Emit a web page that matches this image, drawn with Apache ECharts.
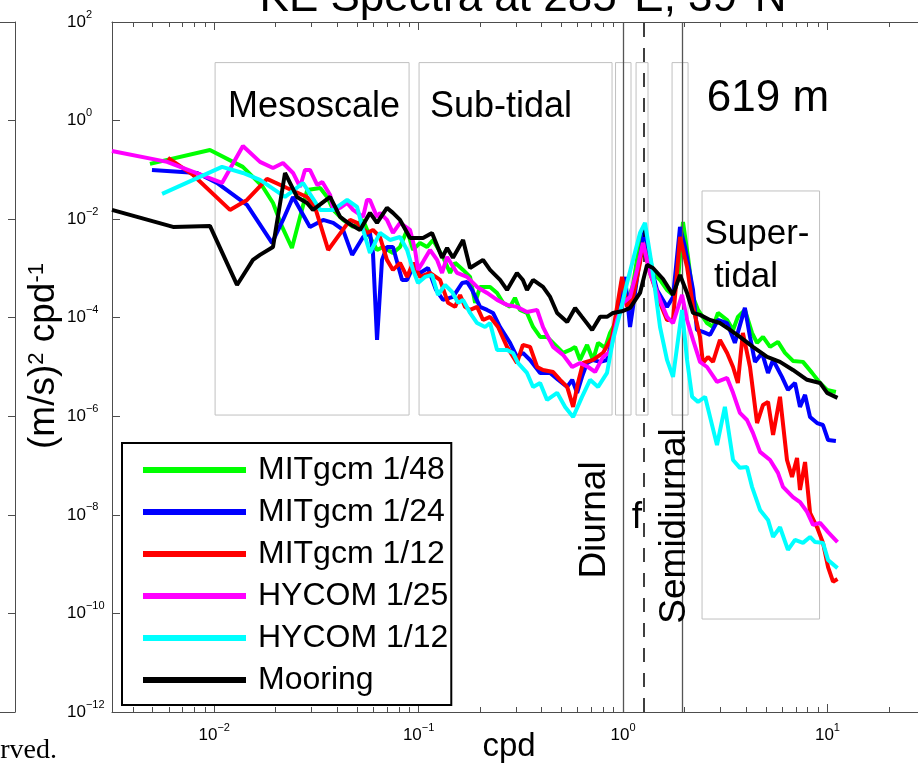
<!DOCTYPE html>
<html><head><meta charset="utf-8">
<script src="https://cdn.jsdelivr.net/npm/echarts@6/dist/echarts.min.js"></script>
<style>html,body{margin:0;padding:0;background:#fff}#c{width:918px;height:768px}</style>
</head><body><div id="c"></div>
<script>
// ---- data: [frequency (cpd), KE spectral density ((m/s)^2 cpd^-1)] ----
const seriesNames = ['MITgcm 1/48','MITgcm 1/24','MITgcm 1/12','HYCOM 1/25','HYCOM 1/12','Mooring'];
const seriesColors = ['#00ff00','#0000ff','#ff0000','#ff00ff','#00ffff','#000000'];

const mitgcm48 = [[0.00485,0.132],[0.00953,0.253],[0.0138,0.115],[0.0173,0.045],[0.0194,0.0213],[0.0215,0.00695],[0.0240,0.0026],[0.0263,0.0111],[0.0285,0.0391],[0.033,0.0429],[0.0357,0.0282],[0.0382,0.0154],[0.0427,0.00964],[0.0478,0.00695],[0.0535,0.00964],[0.0578,0.00435],[0.0626,0.00237],[0.0669,0.00273],[0.0749,0.00206],[0.0811,0.00273],[0.0878,0.00604],[0.0939,0.00237],[0.1016,0.00329],[0.110,0.00273],[0.1176,0.00378],[0.1316,0.00171],[0.1425,0.00081],[0.1508,0.0013],[0.165,0.000933],[0.1785,0.000672],[0.189,0.0002],[0.1998,0.000421],[0.2236,0.000421],[0.242,0.000318],[0.259,0.0002],[0.28,0.000166],[0.296,0.000253],[0.313,0.000144],[0.339,0.000125],[0.363,6.5e-5],[0.393,4.08e-5],[0.425,4.08e-5],[0.476,2.56e-5],[0.509,1.93e-5],[0.551,2.22e-5],[0.583,2.56e-5],[0.616,1.39e-5],[0.667,2.81e-5],[0.713,1.39e-5],[0.755,3.09e-5],[0.817,2.44e-5],[0.864,4.92e-5],[0.935,9.0e-5],[0.989,0.000584],[1.058,0.00023],[1.119,0.000462],[1.211,0.00378],[1.281,0.0055],[1.401,0.00081],[1.517,0.000584],[1.641,0.000366],[1.756,0.00029],[1.857,0.000584],[1.965,0.00878],[2.079,0.00171],[2.2,0.000264],[2.327,0.000144],[2.575,7.8e-5],[2.755,6.47e-5],[2.913,0.000125],[3.23,9.0e-5],[3.453,5.65e-5],[3.646,0.000104],[3.946,0.000144],[4.276,4.92e-5],[4.526,3.09e-5],[4.839,4.08e-5],[5.24,2.56e-5],[5.728,3.23e-5],[6.2,1.93e-5],[6.783,1.33e-5],[7.59,1.27e-5],[8.41,7.6e-6],[9.2,4.75e-6],[9.96,3.43e-6],[11.0,3.12e-6]];

const mitgcm24 = [[0.00496,0.0995],[0.00825,0.0865],[0.01032,0.0542],[0.01447,0.0194],[0.01918,0.00329],[0.0217,0.00964],[0.0243,0.0282],[0.0294,0.00695],[0.0341,0.00964],[0.0382,0.00838],[0.0427,0.00604],[0.0473,0.00188],[0.0535,0.00435],[0.0578,0.00525],[0.0598,0.00206],[0.0626,3.54e-5],[0.0662,0.00149],[0.070,0.00273],[0.0749,0.00273],[0.083,0.000584],[0.0878,0.000584],[0.0939,0.00107],[0.1016,0.00081],[0.1111,0.00102],[0.1217,0.000366],[0.1316,0.00023],[0.1473,0.000264],[0.1632,0.000507],[0.1726,0.000532],[0.1826,0.000366],[0.1998,0.000166],[0.2162,0.000144],[0.2312,0.000125],[0.2503,6.47e-5],[0.28,3.09e-5],[0.3027,1.6e-5],[0.3237,1.93e-5],[0.351,1.39e-5],[0.393,7.58e-6],[0.44,7.58e-6],[0.481,5.5e-6],[0.533,3.94e-6],[0.564,5.5e-6],[0.596,2.99e-6],[0.63,6.29e-6],[0.667,1.21e-5],[0.713,1.39e-5],[0.772,1.27e-5],[0.835,1.39e-5],[0.893,4.08e-5],[0.967,0.00023],[1.023,0.000672],[1.082,6.47e-5],[1.119,0.000166],[1.211,0.00171],[1.281,0.00663],[1.355,0.0013],[1.467,0.000366],[1.641,0.000166],[1.756,0.000264],[1.9,0.00695],[2.01,0.00273],[2.2,0.000366],[2.30,5.65e-5],[2.46,5.15e-5],[2.664,4.48e-5],[2.913,9.0e-5],[3.23,7.8e-5],[3.525,3.09e-5],[3.946,0.000158],[4.18,4.08e-5],[4.42,1.27e-5],[4.79,1.93e-5],[5.12,7.58e-6],[5.42,1.39e-5],[5.99,6.29e-6],[6.41,3.43e-6],[6.94,4.75e-6],[7.34,1.55e-6],[7.77,2.72e-6],[8.22,9.7e-7],[8.9,7.3e-7],[9.51,6.65e-7],[10.07,3.3e-7],[11.0,3.15e-7]];

const mitgcm12 = [[0.00594,0.175],[0.00788,0.0788],[0.01194,0.0154],[0.01447,0.0245],[0.01813,0.0654],[0.0227,0.0429],[0.02846,0.0282],[0.0311,0.0177],[0.0361,0.00237],[0.0462,0.00964],[0.05,0.00838],[0.0559,0.00525],[0.0598,0.00604],[0.0647,0.00435],[0.070,0.00149],[0.0749,0.000933],[0.0811,0.0013],[0.0878,0.000672],[0.0939,0.0013],[0.1016,0.000672],[0.1137,0.00081],[0.1273,0.000584],[0.1393,0.0002],[0.1508,0.000166],[0.1595,0.00029],[0.1688,0.000166],[0.1785,0.000144],[0.1932,0.000166],[0.2066,9.0e-5],[0.2236,0.000104],[0.2447,6.47e-5],[0.2708,2.56e-5],[0.3027,1.21e-5],[0.3237,2.81e-5],[0.351,2.56e-5],[0.380,1.0e-5],[0.406,8.7e-6],[0.455,7.93e-6],[0.492,5.5e-6],[0.533,3.94e-6],[0.570,1.55e-6],[0.602,4.75e-6],[0.637,1.21e-5],[0.713,1.39e-5],[0.798,1.93e-5],[0.884,4.08e-5],[0.935,0.000166],[0.989,0.000672],[1.046,0.000166],[1.119,0.000264],[1.211,0.0013],[1.252,0.00329],[1.355,0.00081],[1.517,0.0002],[1.641,9.0e-5],[1.756,9.0e-5],[1.9,0.00435],[2.057,0.00107],[2.2,0.000166],[2.38,4.08e-5],[2.46,1.21e-5],[2.604,1.6e-5],[2.755,1.27e-5],[2.98,3.54e-5],[3.23,1.93e-5],[3.453,1.0e-5],[3.646,4.75e-6],[3.857,4.92e-5],[4.18,1.0e-5],[4.526,7.3e-7],[4.84,1.7e-6],[5.12,1.96e-6],[5.42,4.2e-7],[5.86,2.48e-6],[6.34,1.3e-7],[6.71,5.9e-8],[7.1,1.43e-7],[7.34,3.2e-8],[7.77,1.18e-7],[8.22,1.1e-8],[8.9,5.6e-9],[9.51,2.7e-9],[10.07,8.7e-10],[10.65,4.4e-10],[11.2,5.0e-10]];

const hycom25 = [[0.00316,0.241],[0.00588,0.145],[0.01092,0.0542],[0.01382,0.305],[0.01675,0.145],[0.01939,0.109],[0.0217,0.138],[0.0243,0.0865],[0.0263,0.045],[0.0278,0.0995],[0.0294,0.0995],[0.0319,0.0494],[0.0338,0.0568],[0.0369,0.031],[0.0382,0.0154],[0.0413,0.0169],[0.0447,0.0213],[0.0478,0.0154],[0.0535,0.0111],[0.0559,0.0245],[0.0578,0.0245],[0.0626,0.0111],[0.0647,0.0134],[0.070,0.00964],[0.0749,0.00525],[0.0811,0.00838],[0.0908,0.00604],[0.0961,0.00237],[0.0993,0.000933],[0.1051,0.00136],[0.1137,0.00237],[0.1231,0.00149],[0.1302,0.00081],[0.1378,0.00171],[0.1542,0.00081],[0.1726,0.000672],[0.1932,0.000421],[0.2162,0.000318],[0.242,0.00023],[0.2708,0.000182],[0.3027,0.000166],[0.339,0.000131],[0.380,0.000144],[0.406,6.47e-5],[0.455,2.56e-5],[0.509,1.76e-5],[0.564,1.0e-5],[0.616,1.21e-5],[0.675,1.0e-5],[0.73,7.93e-6],[0.798,1.6e-5],[0.864,2.02e-5],[0.935,9.0e-5],[1.0,0.0002],[1.082,0.000264],[1.171,0.000933],[1.252,0.00329],[1.355,0.00081],[1.517,0.00023],[1.641,0.000104],[1.756,7.8e-5],[1.944,0.00029],[2.057,9.0e-5],[2.2,3.54e-5],[2.38,1.27e-5],[2.575,1.0e-5],[2.882,5.0e-6],[3.23,6.0e-6],[3.453,2.99e-6],[3.73,1.17e-6],[4.04,8.4e-7],[4.32,4.6e-7],[4.68,1.9e-7],[5.24,1.3e-7],[5.728,7.1e-8],[6.06,3.7e-8],[6.783,2.3e-8],[7.34,1.82e-8],[7.95,1.15e-8],[8.5,6.25e-9],[9.2,6.9e-9],[10.07,4.46e-9],[11.2,2.8e-9]];

const hycom12 = [[0.00556,0.0325],[0.01092,0.115],[0.01382,0.0865],[0.01675,0.0624],[0.0222,0.0282],[0.0272,0.0542],[0.033,0.0154],[0.0382,0.0154],[0.0447,0.0245],[0.05,0.0177],[0.0535,0.00604],[0.0578,0.00206],[0.0647,0.00525],[0.0724,0.00378],[0.0811,0.00435],[0.0878,0.00237],[0.0939,0.000933],[0.0993,0.000507],[0.1075,0.000672],[0.1163,0.000738],[0.1244,0.00029],[0.1347,0.000462],[0.1458,0.000333],[0.1559,0.0002],[0.165,0.00023],[0.1785,0.000125],[0.1932,7.8e-5],[0.2114,6.47e-5],[0.2236,7.8e-5],[0.242,2.22e-5],[0.2708,2.22e-5],[0.2895,1.93e-5],[0.306,1.21e-5],[0.339,7.58e-6],[0.363,3.94e-6],[0.393,4.75e-6],[0.425,2.15e-6],[0.476,2.99e-6],[0.521,1.55e-6],[0.570,9.7e-7],[0.63,2.48e-6],[0.69,5.5e-6],[0.755,3.94e-6],[0.835,7.58e-6],[0.893,3.54e-5],[0.967,0.000125],[1.046,0.000507],[1.119,0.00149],[1.211,0.00525],[1.281,0.00838],[1.387,0.00107],[1.517,6.47e-5],[1.641,1.39e-5],[1.756,6.29e-6],[1.944,0.000144],[2.057,1.39e-5],[2.177,2.48e-6],[2.327,1.96e-6],[2.52,2.48e-6],[2.882,2.6e-7],[3.15,1.55e-6],[3.453,1.3e-7],[3.73,9.0e-8],[4.04,9.4e-8],[4.276,3.7e-8],[4.68,1.26e-8],[5.12,7.9e-9],[5.42,3.57e-9],[5.86,5.6e-9],[6.41,1.94e-9],[6.94,3.1e-9],[7.59,2.7e-9],[8.22,3.57e-9],[8.7,2.8e-9],[9.51,2.7e-9],[10.07,1.22e-9],[11.2,8.3e-10]];

const mooring = [[0.00316,0.0154],[0.00629,0.00695],[0.00953,0.00728],[0.01293,0.000462],[0.01547,0.00149],[0.01675,0.00188],[0.01939,0.00273],[0.0222,0.0865],[0.0254,0.0282],[0.02846,0.0213],[0.0304,0.0154],[0.0369,0.0282],[0.0413,0.0111],[0.0452,0.00838],[0.0517,0.00604],[0.0578,0.0134],[0.0626,0.00838],[0.070,0.0169],[0.0749,0.0134],[0.0811,0.00964],[0.0908,0.00415],[0.0993,0.00415],[0.1051,0.00415],[0.1163,0.00525],[0.1302,0.00164],[0.1378,0.0026],[0.1473,0.00164],[0.165,0.00378],[0.1785,0.00102],[0.2066,0.00149],[0.2236,0.000933],[0.2503,0.000584],[0.2708,0.000366],[0.3027,0.00081],[0.3237,0.000584],[0.339,0.000366],[0.363,0.000584],[0.406,0.000421],[0.44,0.000264],[0.476,0.000125],[0.533,8.2e-5],[0.583,0.000158],[0.63,0.000104],[0.706,5.65e-5],[0.772,0.000104],[0.835,0.000104],[0.893,0.000125],[1.0,0.000137],[1.082,0.000158],[1.211,0.000318],[1.31,0.00118],[1.401,0.00102],[1.569,0.00061],[1.756,0.00029],[1.9,0.000738],[2.057,0.000318],[2.2,0.000125],[2.38,0.000114],[2.664,9.0e-5],[2.98,7.8e-5],[3.34,5.65e-5],[3.73,4.08e-5],[4.32,2.56e-5],[5.07,1.6e-5],[5.86,1.27e-5],[6.78,8.7e-6],[7.95,5.5e-6],[9.2,4.75e-6],[9.96,2.99e-6],[11.2,2.36e-6]];

// axis ranges and tick labels (powers of ten)
const xRangeCpd = [Math.pow(10, -2.5), Math.pow(10, 1.443)];
const yRangePsd = [1e-12, 1e2];
const xTickExponents = [-2, -1, 0, 1];
const yTickExponents = [2, 0, -2, -4, -6, -8, -10, -12];
const minorMultipliers = [2, 3, 4, 5, 6, 7, 8, 9];

// tidal / inertial frequencies (cpd) at 39N
const tidalFreqs = { diurnal: 1.0, inertial: 1.2587, semidiurnal: 1.9323 };
// frequency bands [f0, f1, psdLow, psdHigh]
const bandNames = ['Mesoscale', 'Sub-tidal', 'Diurnal', 'f', 'Semidiurnal', 'Super-tidal'];
const bandLimits = [[0.0101,0.0898,1.06e-6,15],[0.1005,0.8835,1.06e-6,15],[0.919,1.094,1.06e-6,15],[1.158,1.325,1.06e-6,15],[1.737,2.08,1.06e-6,15],[2.435,9.15,7.7e-11,0.0373]];

// ---- chart ----
const L = Math.log10;
const allData = [mitgcm48, mitgcm24, mitgcm12, hycom25, hycom12, mooring];
const xMin = L(xRangeCpd[0]), xMax = L(xRangeCpd[1]);
const yMin = L(yRangePsd[0]), yMax = L(yRangePsd[1]);
const minorX = [];
for (let n = -3; n <= 1; n++) for (const k of minorMultipliers) { const v = n + L(k); if (v > xMin && v < xMax) minorX.push(v); }

const axisColor = '#4d4d4d';
const SANS = '"Liberation Sans", Arial, sans-serif';
const supLabel = (v) => '{b|10}{s|' + String(Math.round(v)).replace('-', '\u2212') + '}';
const tickRich = { b: { fontSize: 17, lineHeight: 26, fontFamily: SANS, color: '#000' },
                   s: { fontSize: 11, lineHeight: 11, verticalAlign: 'top', fontFamily: SANS, color: '#000' } };

function xAx(pos, ticks, len, showLine, labels) {
  return { type: 'value', gridIndex: 0, position: pos, min: xMin, max: xMax,
    axisLine: { show: showLine, onZero: false, lineStyle: { color: axisColor, width: 1 } },
    axisTick: { show: true, inside: true, length: len, customValues: ticks, lineStyle: { color: axisColor } },
    axisLabel: labels ? { show: true, customValues: xTickExponents, formatter: supLabel, rich: tickRich, margin: 10 } : { show: false },
    splitLine: { show: false } };
}

const series = allData.map((d, i) => ({
  name: seriesNames[i], type: 'line', xAxisIndex: 0, yAxisIndex: 0,
  data: d.map(p => [L(p[0]), L(p[1])]),
  showSymbol: false, symbol: 'none', color: seriesColors[i],
  lineStyle: { color: seriesColors[i], width: 4 }, z: 3 + i, animation: false
}));
series[0].markLine = { silent: true, symbol: 'none', label: { show: false }, animation: false,
  data: [
    { xAxis: L(tidalFreqs.diurnal), lineStyle: { color: '#555', width: 1.3, type: 'solid' } },
    { xAxis: L(tidalFreqs.inertial), lineStyle: { color: '#000', width: 1.5, type: [14, 11] } },
    { xAxis: L(tidalFreqs.semidiurnal), lineStyle: { color: '#555', width: 1.3, type: 'solid' } }
  ] };
series[0].markArea = { silent: true, animation: false, label: { show: false },
  itemStyle: { color: 'rgba(0,0,0,0)', borderColor: '#c0c0c0', borderWidth: 1 },
  data: bandLimits.map((b, i) => [{ name: bandNames[i], xAxis: L(b[0]), yAxis: L(b[3]) }, { xAxis: L(b[1]), yAxis: L(b[2]) }]) };

function txt(x, y, text, size, extra) {
  return Object.assign({ type: 'text', x: x, y: y, z: 50,
    style: Object.assign({ text: text, fontSize: size, fontFamily: SANS, fill: '#000',
      align: 'center', verticalAlign: 'middle', textAlign: 'center', textVerticalAlign: 'middle' }, (extra && extra.style) || {}) },
    extra && extra.el || {});
}

const option = {
  backgroundColor: '#fff',
  animation: false,
  grid: [
    { left: 112, right: 0, top: 22, bottom: 56, containLabel: false },
    { left: 0, right: 903, top: 22, bottom: 56, containLabel: false }
  ],
  xAxis: [
    xAx('bottom', xTickExponents, 8, true, true),
    xAx('bottom', minorX, 5, false, false),
    xAx('top', xTickExponents, 8, true, false),
    xAx('top', minorX, 5, false, false),
    { type: 'value', gridIndex: 1, position: 'bottom', min: 0, max: 1, axisLine: { show: true, onZero: false, lineStyle: { color: axisColor } }, axisTick: { show: false }, axisLabel: { show: false }, splitLine: { show: false } },
    { type: 'value', gridIndex: 1, position: 'top', min: 0, max: 1, axisLine: { show: true, onZero: false, lineStyle: { color: axisColor } }, axisTick: { show: false }, axisLabel: { show: false }, splitLine: { show: false } }
  ],
  yAxis: [
    { type: 'value', gridIndex: 0, position: 'left', min: yMin, max: yMax, interval: 2,
      axisLine: { show: true, onZero: false, lineStyle: { color: axisColor } },
      axisTick: { show: true, inside: true, length: 8, lineStyle: { color: axisColor } },
      axisLabel: { show: true, align: 'left', margin: 45, formatter: supLabel, rich: tickRich },
      splitLine: { show: false } },
    { type: 'value', gridIndex: 1, position: 'right', min: yMin, max: yMax, interval: 2,
      axisLine: { show: true, onZero: false, lineStyle: { color: axisColor } },
      axisTick: { show: true, inside: true, length: 7, lineStyle: { color: axisColor } },
      axisLabel: { show: false }, splitLine: { show: false } }
  ],
  legend: {
    orient: 'vertical', left: 122, top: 443, icon: 'rect', itemWidth: 103, itemHeight: 6, itemGap: 10,
    padding: [11, 3, 9, 21], backgroundColor: '#fff', borderColor: '#000', borderWidth: 2, borderRadius: 0,
    textStyle: { fontSize: 32, fontFamily: SANS, color: '#000', padding: [0, 0, 0, 7] },
    data: seriesNames, selectedMode: false, z: 20
  },
  graphic: [
    txt(523, -1, 'KE Spectra at 285\u00b0E, 39\u00b0N', 44),
    txt(314, 107, 'Mesoscale', 36),
    txt(501, 107, 'Sub-tidal', 36),
    txt(768, 99, '619 m', 44),
    txt(757, 234, 'Super-', 35),
    txt(746, 277, 'tidal', 35),
    txt(595, 520, 'Diurnal', 37, { el: { rotation: Math.PI / 2 } }),
    txt(675, 526, 'Semidiurnal', 37, { el: { rotation: Math.PI / 2 } }),
    txt(637, 518, 'f', 37),
    txt(509, 747, 'cpd', 33),
    txt(40, 356, '(m/s){sup|2} cpd{sup|-1}', 37, { el: { rotation: Math.PI / 2 }, style: {
      backgroundColor: '#fff', padding: [8, 3, 0, 3],
      rich: { sup: { fontSize: 22, verticalAlign: 'top', lineHeight: 22, fontFamily: SANS } } } }),
    txt(57, 751, 'All rights reserved.', 28, { style: { fontFamily: '"Liberation Serif", serif', align: 'right', textAlign: 'right' } })
  ],
  series: series
};

const chart = echarts.init(document.getElementById('c'), null, { renderer: 'canvas' });
chart.setOption(option);
</script>
</body></html>
